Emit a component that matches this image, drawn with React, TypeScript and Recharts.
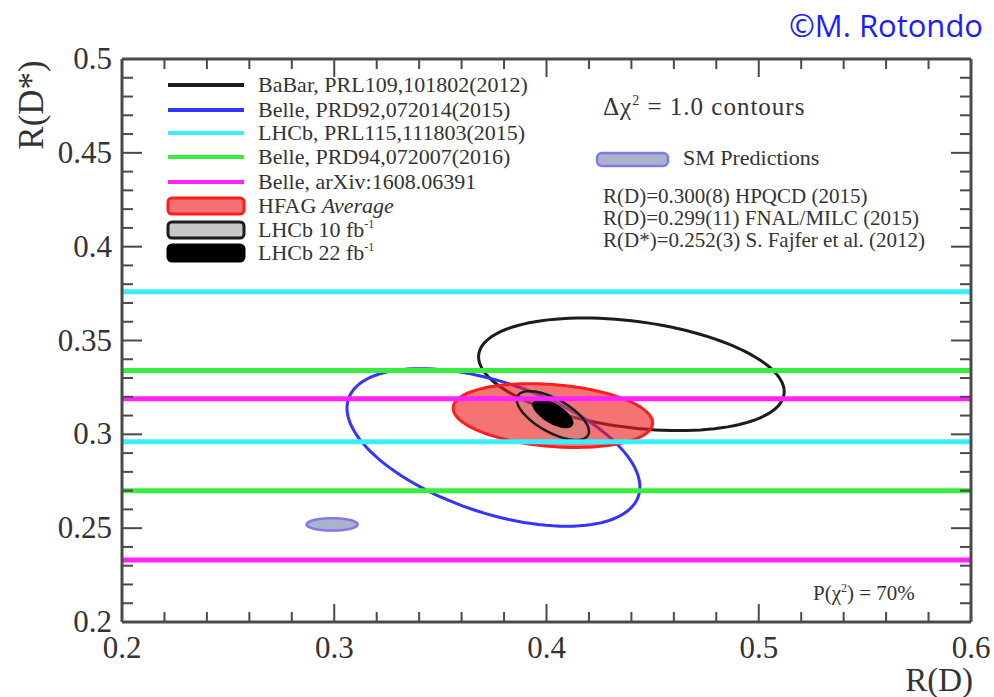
import React from 'react';
import { ComposedChart, XAxis, YAxis, Scatter, ReferenceLine, ReferenceArea } from 'recharts';

// Δχ² = 1 contours: centre, 1σ error and correlation for each measurement
const contourKeys = ['babar', 'belle15', 'hfag', 'lhcb10', 'lhcb22', 'sm'];
const rdMean = [0.44, 0.375, 0.403, 0.403, 0.403, 0.299];
const rdErr = [0.072, 0.069, 0.047, 0.017, 0.0095, 0.012];
const rdsMean = [0.332, 0.293, 0.31, 0.31, 0.311, 0.252];
const rdsErr = [0.03, 0.042, 0.017, 0.013, 0.0075, 0.0033];
const corr = [-0.31, -0.5, -0.23, -0.65, -0.65, 0];

// R(D*)-only results, shown as ±1σ horizontal lines
const bandKeys = ['lhcb15', 'belle16', 'belleArxiv'];
const bandMean = [0.336, 0.302, 0.276];
const bandErr = [0.04, 0.032, 0.043];

const legendLabels = [
  'BaBar, PRL109,101802(2012)',
  'Belle, PRD92,072014(2015)',
  'LHCb, PRL115,111803(2015)',
  'Belle, PRD94,072007(2016)',
  'Belle, arXiv:1608.06391',
];
const smLines = [
  'R(D)=0.300(8) HPQCD (2015)',
  'R(D)=0.299(11) FNAL/MILC (2015)',
  'R(D*)=0.252(3) S. Fajfer et al. (2012)',
];

const range = (a: number, b: number, step: number) => {
  const out: number[] = [];
  for (let i = 0; a + i * step <= b + 1e-9; i++) out.push(+(a + i * step).toFixed(4));
  return out;
};
const xTicks = range(0.2, 0.6, 0.02);
const yTicks = range(0.2, 0.5, 0.01);
const isMajorX = (v: number) => Math.abs(v * 10 - Math.round(v * 10)) < 1e-6;
const isMajorY = (v: number) => Math.abs(v * 20 - Math.round(v * 20)) < 1e-6;
const fmt = (v: number) => String(+v.toFixed(2));

// contour centres, only used so the axes have something to scale
const centres = contourKeys.map((k, i) => ({ key: k, x: rdMean[i], y: rdsMean[i] }));

const W = 994;
const H = 697;
const AXIS = '#4a4a4a';
const TEXT = '#333';
const SERIF = '"Liberation Serif", "Times New Roman", serif';

const contourStyle: Record<string, { stroke: string; fill: string; width: number }> = {
  babar: { stroke: '#1c1c1c', fill: 'none', width: 3 },
  belle15: { stroke: '#3434ff', fill: 'none', width: 3 },
  hfag: { stroke: '#ff1e1e', fill: 'rgba(238,30,30,0.62)', width: 3 },
  lhcb10: { stroke: '#1c1c1c', fill: 'rgba(150,150,150,0.2)', width: 2.5 },
  lhcb22: { stroke: '#000', fill: '#000', width: 1 },
  sm: { stroke: '#8676ee', fill: '#a9b3cc', width: 2.5 },
};
const bandColor: Record<string, string> = {
  lhcb15: '#38eeff',
  belle16: '#38ee3c',
  belleArxiv: '#ff22ff',
};
const legendColors = ['#1c1c1c', '#3434ff', '#38eeff', '#38ee3c', '#ff22ff'];

// tilted ellipse inscribed in the ±1σ box handed over by ReferenceArea
const ellipseShape = (rho: number, st: { stroke: string; fill: string; width: number }) =>
  (p: any) => {
    const a = p.width / 2;
    const b = p.height / 2;
    const cx = p.x + a;
    const cy = p.y + b;
    const s = Math.sqrt(1 - rho * rho);
    let d = '';
    for (let i = 0; i <= 120; i++) {
      const t = (i / 120) * 2 * Math.PI;
      const px = cx + a * Math.cos(t);
      const py = cy - b * (rho * Math.cos(t) + s * Math.sin(t));
      d += (i ? 'L' : 'M') + px.toFixed(2) + ',' + py.toFixed(2);
    }
    return <path d={d + 'Z'} stroke={st.stroke} strokeWidth={st.width} fill={st.fill} />;
  };

const BottomTick = (p: any) => {
  const major = isMajorX(p.payload.value);
  return (
    <g>
      <line x1={p.x} x2={p.x} y1={p.y} y2={p.y - (major ? 18 : 10)} stroke={AXIS} strokeWidth={2} />
      {major && (
        <text x={p.x} y={p.y + 36} textAnchor="middle" fontFamily={SERIF} fontSize={31} fill={TEXT}>
          {fmt(p.payload.value)}
        </text>
      )}
    </g>
  );
};
const TopTick = (p: any) => {
  const major = isMajorX(p.payload.value);
  return <line x1={p.x} x2={p.x} y1={p.y} y2={p.y + (major ? 18 : 10)} stroke={AXIS} strokeWidth={2} />;
};
const LeftTick = (p: any) => {
  const major = isMajorY(p.payload.value);
  return (
    <g>
      <line x1={p.x} x2={p.x + (major ? 20 : 11)} y1={p.y} y2={p.y} stroke={AXIS} strokeWidth={2} />
      {major && (
        <text x={p.x - 10} y={p.y + 10} textAnchor="end" fontFamily={SERIF} fontSize={31} fill={TEXT}>
          {fmt(p.payload.value)}
        </text>
      )}
    </g>
  );
};
const RightTick = (p: any) => {
  const major = isMajorY(p.payload.value);
  return <line x1={p.x} x2={p.x - (major ? 20 : 11)} y1={p.y} y2={p.y} stroke={AXIS} strokeWidth={2} />;
};

const Annotations = () => {
  const rowY = [85, 110, 133, 157, 182, 206, 230, 253];
  return (
    <svg width={W} height={H} style={{ position: 'absolute', left: 0, top: 0, pointerEvents: 'none' }}>
      <text x={983} y={37} textAnchor="end" fontFamily='"Open Sans", sans-serif' fontSize={31} fill="#1c1cff">
        ©M. Rotondo
      </text>

      {legendLabels.map((label, i) => (
        <g key={label}>
          <line x1={168} x2={244} y1={rowY[i]} y2={rowY[i]} stroke={legendColors[i]} strokeWidth={4} />
          <text x={258} y={rowY[i] + 7} fontFamily={SERIF} fontSize={22} fill={TEXT}>{label}</text>
        </g>
      ))}
      <rect x={168} y={rowY[5] - 8} width={76} height={16} rx={4} fill="#f27272" stroke="#ff1e1e" strokeWidth={3} />
      <text x={258} y={rowY[5] + 7} fontFamily={SERIF} fontSize={22} fill={TEXT}>
        HFAG <tspan fontStyle="italic">Average</tspan>
      </text>
      <rect x={168} y={rowY[6] - 8} width={76} height={16} rx={4} fill="#c8c8c8" stroke="#1c1c1c" strokeWidth={3} />
      <text x={258} y={rowY[6] + 7} fontFamily={SERIF} fontSize={22} fill={TEXT}>
        LHCb 10 fb<tspan dy={-9} fontSize={12}>-1</tspan>
      </text>
      <rect x={168} y={rowY[7] - 8} width={76} height={16} rx={4} fill="#000" stroke="#000" strokeWidth={3} />
      <text x={258} y={rowY[7] + 7} fontFamily={SERIF} fontSize={22} fill={TEXT}>
        LHCb 22 fb<tspan dy={-9} fontSize={12}>-1</tspan>
      </text>

      <text x={603} y={115} fontFamily={SERIF} fontSize={25} letterSpacing={1} fill={TEXT}>
        Δχ<tspan dy={-10} fontSize={14}>2</tspan>
        <tspan dy={10}> = 1.0 contours</tspan>
      </text>
      <rect x={597} y={153} width={71} height={13} rx={5} fill="#a9b3cc" stroke="#8676ee" strokeWidth={2.5} />
      <text x={683} y={165} fontFamily={SERIF} fontSize={22} fill={TEXT}>SM Predictions</text>
      {smLines.map((s, i) => (
        <text key={s} x={603} y={203 + i * 22} fontFamily={SERIF} fontSize={21} fill={TEXT}>{s}</text>
      ))}

      <text x={813} y={600} fontFamily={SERIF} fontSize={21} fill={TEXT}>
        P(χ<tspan dy={-8} fontSize={12}>2</tspan>
        <tspan dy={8}>) = 70%</tspan>
      </text>

      <text x={973} y={691} textAnchor="end" fontFamily={SERIF} fontSize={33} fill={TEXT}>R(D)</text>
      <text x={31} y={105} transform="rotate(-90 31 105)" textAnchor="middle" dominantBaseline="central"
        fontFamily={SERIF} fontSize={35} fill={TEXT}>R(D*)</text>
    </svg>
  );
};

export default function App() {
  return (
    <div style={{ position: 'absolute', left: 0, top: 0, width: W, height: H, background: '#fff' }}>
      <ComposedChart width={W} height={H} margin={{ top: 58, right: 22, bottom: 74, left: 121 }}>
        <XAxis type="number" dataKey="x" domain={[0.2, 0.6]} ticks={xTicks} interval={0} allowDataOverflow
          height={1} tickSize={0} tickMargin={0} tickLine={false} tick={<BottomTick />}
          axisLine={{ stroke: AXIS, strokeWidth: 3 }} />
        <XAxis xAxisId="top" orientation="top" type="number" dataKey="x" domain={[0.2, 0.6]} ticks={xTicks}
          interval={0} allowDataOverflow height={1} tickSize={0} tickMargin={0} tickLine={false}
          tick={<TopTick />} axisLine={{ stroke: AXIS, strokeWidth: 3 }} />
        <YAxis type="number" dataKey="y" domain={[0.2, 0.5]} ticks={yTicks} interval={0} allowDataOverflow
          width={1} tickSize={0} tickMargin={0} tickLine={false} tick={<LeftTick />}
          axisLine={{ stroke: AXIS, strokeWidth: 3 }} />
        <YAxis yAxisId="right" orientation="right" type="number" dataKey="y" domain={[0.2, 0.5]} ticks={yTicks}
          interval={0} allowDataOverflow width={1} tickSize={0} tickMargin={0} tickLine={false}
          tick={<RightTick />} axisLine={{ stroke: AXIS, strokeWidth: 3 }} />

        <Scatter data={centres} dataKey="y" shape={() => <g />} isAnimationActive={false} />
        <Scatter data={centres} dataKey="y" xAxisId="top" yAxisId="right" shape={() => <g />}
          isAnimationActive={false} />

        {bandKeys.flatMap((k, i) => [
          <ReferenceLine key={k + 'hi'} y={bandMean[i] + bandErr[i]} stroke={bandColor[k]} strokeWidth={5} />,
          <ReferenceLine key={k + 'lo'} y={bandMean[i] - bandErr[i]} stroke={bandColor[k]} strokeWidth={5} />,
        ])}

        {contourKeys.map((k, i) => (
          <ReferenceArea
            key={k}
            x1={rdMean[i] - rdErr[i]}
            x2={rdMean[i] + rdErr[i]}
            y1={rdsMean[i] - rdsErr[i]}
            y2={rdsMean[i] + rdsErr[i]}
            ifOverflow="visible"
            shape={ellipseShape(corr[i], contourStyle[k])}
          />
        ))}
      </ComposedChart>
      <Annotations />
    </div>
  );
}
